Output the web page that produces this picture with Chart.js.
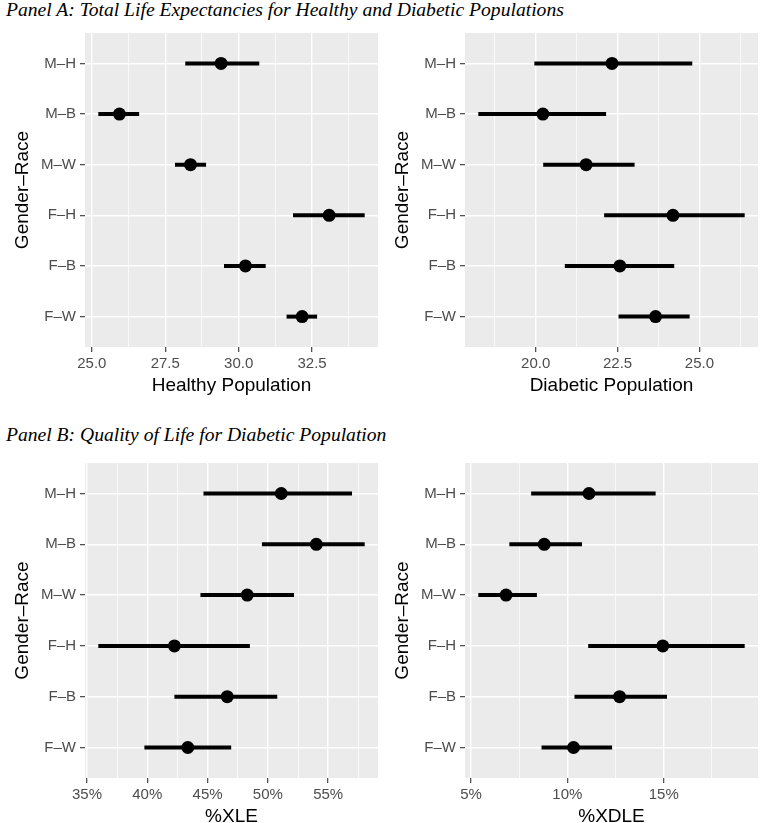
<!DOCTYPE html>
<html>
<head>
<meta charset="utf-8">
<script src="https://cdn.jsdelivr.net/npm/chart.js@4.4.1/dist/chart.umd.min.js"></script>
<style>
body { margin:0; width:760px; height:823px; overflow:hidden; background:#fff; position:relative; }
.ttl { position:absolute; left:6px; font:italic 19.6px/20px "Liberation Serif", serif; color:#000; white-space:nowrap; }
canvas { position:absolute; }
</style>
</head>
<body>
<div class="ttl" style="top:0">Panel A: Total Life Expectancies for Healthy and Diabetic Populations</div>
<div class="ttl" style="top:425px">Panel B: Quality of Life for Diabetic Population</div>
<canvas id="c1" width="380" height="367" style="left:0;top:33px"></canvas>
<canvas id="c2" width="380" height="367" style="left:380px;top:33px"></canvas>
<canvas id="c3" width="380" height="370" style="left:0;top:463px"></canvas>
<canvas id="c4" width="380" height="370" style="left:380px;top:463px"></canvas>
<script>
const groups = ['M–H', 'M–B', 'M–W', 'F–H', 'F–B', 'F–W'];

// Panel A
const healthyEst = [29.40, 25.94, 28.36, 33.08, 30.23, 32.16];
const healthyLo  = [28.18, 25.22, 27.83, 31.85, 29.50, 31.63];
const healthyHi  = [30.70, 26.61, 28.89, 34.29, 30.92, 32.67];
const healthyTicks = [25, 27.5, 30, 32.5];

const diabEst = [22.33, 20.22, 21.54, 24.19, 22.57, 23.66];
const diabLo  = [19.96, 18.25, 20.23, 22.09, 20.89, 22.53];
const diabHi  = [24.78, 22.15, 23.02, 26.38, 24.23, 24.70];
const diabTicks = [20, 22.5, 25];

// Panel B (percent)
const xleEst = [51.11, 54.02, 48.29, 42.25, 46.63, 43.36];
const xleLo  = [44.66, 49.51, 44.41, 35.94, 42.25, 39.76];
const xleHi  = [56.98, 58.03, 52.17, 48.51, 50.78, 46.96];
const xleTicks = [35, 40, 45, 50, 55];

const xdleEst = [11.12, 8.80, 6.82, 14.95, 12.71, 10.32];
const xdleLo  = [8.12, 6.99, 5.38, 11.08, 10.37, 8.66];
const xdleHi  = [14.58, 10.76, 8.42, 19.20, 15.17, 12.32];
const xdleTicks = [5, 10, 15];

const panelBg = {
  id: 'panelBg',
  beforeDraw(chart) {
    const a = chart.chartArea;
    chart.ctx.save();
    chart.ctx.fillStyle = '#EBEBEB';
    chart.ctx.fillRect(a.left, a.top, a.right - a.left, a.bottom - a.top);
    chart.ctx.restore();
  }
};

function drawPanel(id, est, lo, hi, major, xTitle, pct, axisH, titlePad) {
  // ggplot style limits: data range expanded by 5%
  const span = Math.max(...hi) - Math.min(...lo);
  const xmin = Math.min(...lo) - span * 0.05;
  const xmax = Math.max(...hi) + span * 0.05;
  const step = major[1] - major[0];
  const minor = [];
  for (let v = major[0] - step / 2; v < xmax; v += step) {
    if (v > xmin && !major.includes(v)) minor.push(v);
  }
  const allTicks = major.concat(minor).sort((a, b) => a - b);
  const isMinor = c => c.tick && minor.includes(c.tick.value);

  const sets = [{
    data: est.map((v, i) => ({x: v, y: i + 1})),
    pointRadius: 6.5, pointBackgroundColor: '#000', pointBorderColor: '#000', pointBorderWidth: 0, order: 0
  }];
  groups.forEach((g, i) => sets.push({
    data: [{x: lo[i], y: i + 1}, {x: hi[i], y: i + 1}],
    showLine: true, borderColor: '#000', borderWidth: 4, borderCapStyle: 'butt', pointRadius: 0, order: 1
  }));

  new Chart(document.getElementById(id).getContext('2d'), {
    type: 'scatter',
    data: {datasets: sets},
    plugins: [panelBg],
    options: {
      responsive: false,
      animation: false,
      events: [],
      layout: {autoPadding: false, padding: {left: 0, right: 2, top: 0, bottom: 0}},
      plugins: {legend: {display: false}, tooltip: {enabled: false}},
      scales: {
        x: {
          type: 'linear', min: xmin, max: xmax,
          afterBuildTicks: s => { s.ticks = allTicks.map(v => ({value: v})); },
          afterFit: s => { s.height = axisH; s.paddingLeft = 0; s.paddingRight = 0; },
          border: {display: false},
          grid: {
            color: '#fff',
            lineWidth: c => isMinor(c) ? 0.7 : 1.4,
            tickColor: c => isMinor(c) ? 'rgba(0,0,0,0)' : '#333',
            tickWidth: 1.1, tickLength: 5
          },
          ticks: {
            autoSkip: false, maxRotation: 0, padding: 3, color: '#4D4D4D',
            font: {family: 'Liberation Sans', size: 15},
            callback: v => minor.includes(v) ? '' : (pct ? v + '%' : v.toFixed(1))
          },
          title: {display: true, text: xTitle, color: '#000',
            font: {family: 'Liberation Sans', size: 19}, padding: {top: 0, bottom: titlePad}}
        },
        y: {
          type: 'linear', min: 0.4, max: 6.6, reverse: true,
          afterBuildTicks: s => { s.ticks = groups.map((g, i) => ({value: i + 1})); },
          afterFit: s => { s.width = 85; s.paddingTop = 0; s.paddingBottom = 0; },
          border: {display: false},
          grid: {color: '#fff', lineWidth: 1.4, tickColor: '#333', tickWidth: 1.1, tickLength: 5},
          ticks: {
            padding: 4, color: '#4D4D4D',
            font: {family: 'Liberation Sans', size: 15},
            callback: v => groups[v - 1]
          },
          title: {display: true, text: 'Gender–Race', color: '#000',
            font: {family: 'Liberation Sans', size: 19}, padding: {top: 11, bottom: 0}}
        }
      }
    }
  });
}

drawPanel('c1', healthyEst, healthyLo, healthyHi, healthyTicks, 'Healthy Population', false, 53, 3);
drawPanel('c2', diabEst, diabLo, diabHi, diabTicks, 'Diabetic Population', false, 53, 3);
drawPanel('c3', xleEst, xleLo, xleHi, xleTicks, '%XLE', true, 55, 5);
drawPanel('c4', xdleEst, xdleLo, xdleHi, xdleTicks, '%XDLE', true, 55, 5);
</script>
</body>
</html>
